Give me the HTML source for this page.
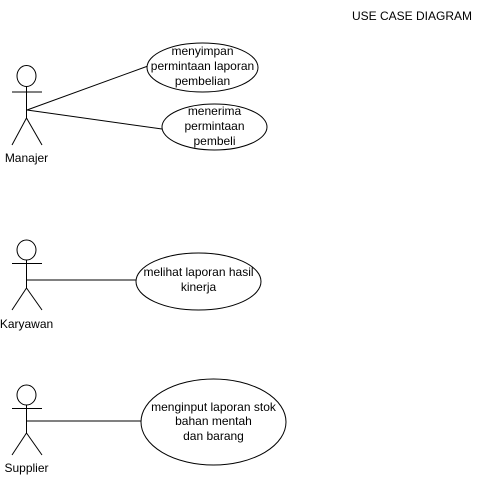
<!DOCTYPE html>
<html><head><style>
body{margin:0;background:#fff;}
svg text{font-family:"Liberation Sans",sans-serif;font-size:12px;fill:#000;}
</style></head><body>
<svg width="482" height="491" xmlns="http://www.w3.org/2000/svg">
<g stroke="#000" stroke-width="1" fill="none">
<!-- Manajer -->
<ellipse cx="26.5" cy="76" rx="9.5" ry="10.5" fill="#fff"/>
<line x1="26.5" y1="86.5" x2="26.5" y2="118"/>
<line x1="12" y1="92" x2="42" y2="92"/>
<line x1="26.5" y1="118" x2="12" y2="145"/>
<line x1="26.5" y1="118" x2="42" y2="145"/>
<line x1="27" y1="110" x2="148" y2="66"/>
<line x1="27" y1="110" x2="162" y2="129"/>
<ellipse cx="202.5" cy="67.5" rx="55.5" ry="24.5" fill="#fff"/>
<ellipse cx="214.5" cy="127" rx="52.5" ry="23" fill="#fff"/>
<!-- Karyawan -->
<ellipse cx="26.5" cy="250" rx="9.5" ry="10" fill="#fff"/>
<line x1="26.5" y1="260" x2="26.5" y2="288"/>
<line x1="12" y1="263.5" x2="42" y2="263.5"/>
<line x1="26.5" y1="288" x2="12" y2="310"/>
<line x1="26.5" y1="288" x2="42" y2="310"/>
<line x1="27" y1="280" x2="136" y2="280"/>
<ellipse cx="198.5" cy="281.5" rx="62.5" ry="28.5" fill="#fff"/>
<!-- Supplier -->
<ellipse cx="26.5" cy="395" rx="9.5" ry="10" fill="#fff"/>
<line x1="26.5" y1="405" x2="26.5" y2="433"/>
<line x1="12" y1="408.5" x2="42" y2="408.5"/>
<line x1="26.5" y1="433" x2="12" y2="455"/>
<line x1="26.5" y1="433" x2="42" y2="455"/>
<line x1="27" y1="421" x2="141" y2="421"/>
<ellipse cx="213.5" cy="422" rx="72.5" ry="43" fill="#fff"/>
</g>
<text x="26.5" y="162" text-anchor="middle">Manajer</text>
<text x="26.5" y="328" text-anchor="middle">Karyawan</text>
<text x="26.5" y="472" text-anchor="middle">Supplier</text>
<g text-anchor="middle">
<text x="202.5" y="55">menyimpan</text>
<text x="202.5" y="70">permintaan laporan</text>
<text x="202.5" y="85">pembelian</text>
<text x="214.5" y="115">menerima</text>
<text x="214.5" y="130">permintaan</text>
<text x="214.5" y="145">pembeli</text>
<text x="198.5" y="276">melihat  laporan hasil</text>
<text x="198.5" y="291">kinerja</text>
<text x="213.5" y="411">menginput laporan stok</text>
<text x="213.5" y="425">bahan mentah</text>
<text x="213.5" y="440">dan barang</text>
</g>
<text x="352" y="20">USE CASE DIAGRAM</text>
</svg>
</body></html>
